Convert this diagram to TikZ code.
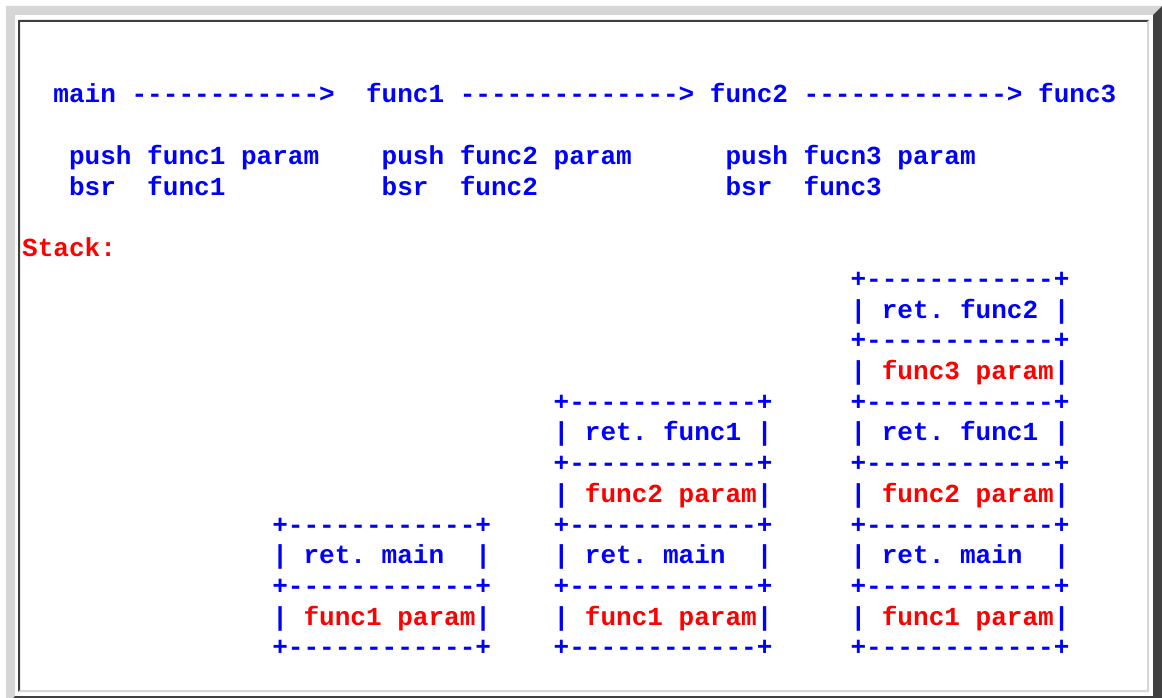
\documentclass[tikz,border=0pt]{standalone}
\usepackage{fontspec}
\setmonofont{Liberation Mono}
\definecolor{asciiB}{HTML}{0000FF}
\definecolor{asciiR}{HTML}{FF0000}
\definecolor{bevelL}{HTML}{D6D6D6}
\definecolor{bevelD}{HTML}{404040}

\begin{document}
\begin{tikzpicture}[x=1pt,y=-1pt,
  asc/.style={anchor=base west,inner sep=0pt,text=asciiB,
    font=\ttfamily\bfseries\fontsize{26.05}{30}\selectfont},
  ascR/.style={asc,text=asciiR}]
\clip (0,0) rectangle (1162,698);
\fill[white] (0,0) rectangle (1162,698);
% outer bevel
\fill[bevelL] (6,705) -- (6,6) -- (1162,6) -- (1153,15) -- (15,15) -- (15,696) -- cycle;
\fill[bevelD] (1162,6) -- (1162,705) -- (6,705) -- (15,696) -- (1153,696) -- (1153,15) -- cycle;
% inner bevel
\fill[bevelD] (18,692) -- (18,20) -- (1149,20) -- (1147,22) -- (20,22) -- (20,690) -- cycle;
\fill[bevelL] (1149,20) -- (1149,692) -- (18,692) -- (20,690) -- (1147,690) -- (1147,22) -- cycle;

\begin{scope}[shift={(22pt,-103pt)},x=15.63pt,y=-30.72pt]
% call chain
\node[asc] (main) at (2,0) {main};
\node[asc] (arr1) at (7,0) {------------>};
\node[asc] (func1) at (22,0) {func1};
\node[asc] (arr2) at (28,0) {-------------->};
\node[asc] (func2) at (44,0) {func2};
\node[asc] (arr3) at (50,0) {------------->};
\node[asc] (func3) at (65,0) {func3};
% calls
\node[asc] (push1) at (3,2) {push func1 param};
\node[asc] (push2) at (23,2) {push func2 param};
\node[asc] (push3) at (45,2) {push fucn3 param};
\node[asc] (bsr1) at (3,3) {bsr};
\node[asc] (bsrf1) at (8,3) {func1};
\node[asc] (bsr2) at (23,3) {bsr};
\node[asc] (bsrf2) at (28,3) {func2};
\node[asc] (bsr3) at (45,3) {bsr};
\node[asc] (bsrf3) at (50,3) {func3};
\node[ascR] (stack) at (0,5) {Stack:};
% stack frames
\foreach \c/\n [count=\k] in {16/2,34/4,53/6}{
  \foreach \i in {0,...,\n}
    \node[asc] (sep\k-\i) at (\c,18-2*\i) {+------------+};
  \foreach \i in {1,...,\n}{
    \node[asc] (lb\k-\i) at (\c,19-2*\i) {|};
    \node[asc] (rb\k-\i) at (\c+13,19-2*\i) {|};
  }
  \foreach \i/\s/\t in {1/ascR/func1 param,2/asc/ret. main,3/ascR/func2 param,
      4/asc/ret. func1,5/ascR/func3 param,6/asc/ret. func2}{
    \ifnum\i>\n\relax\else
      \node[\s] (cell\k-\i) at (\c+2,19-2*\i) {\t};
    \fi
  }
}
\end{scope}
\end{tikzpicture}
\end{document}
